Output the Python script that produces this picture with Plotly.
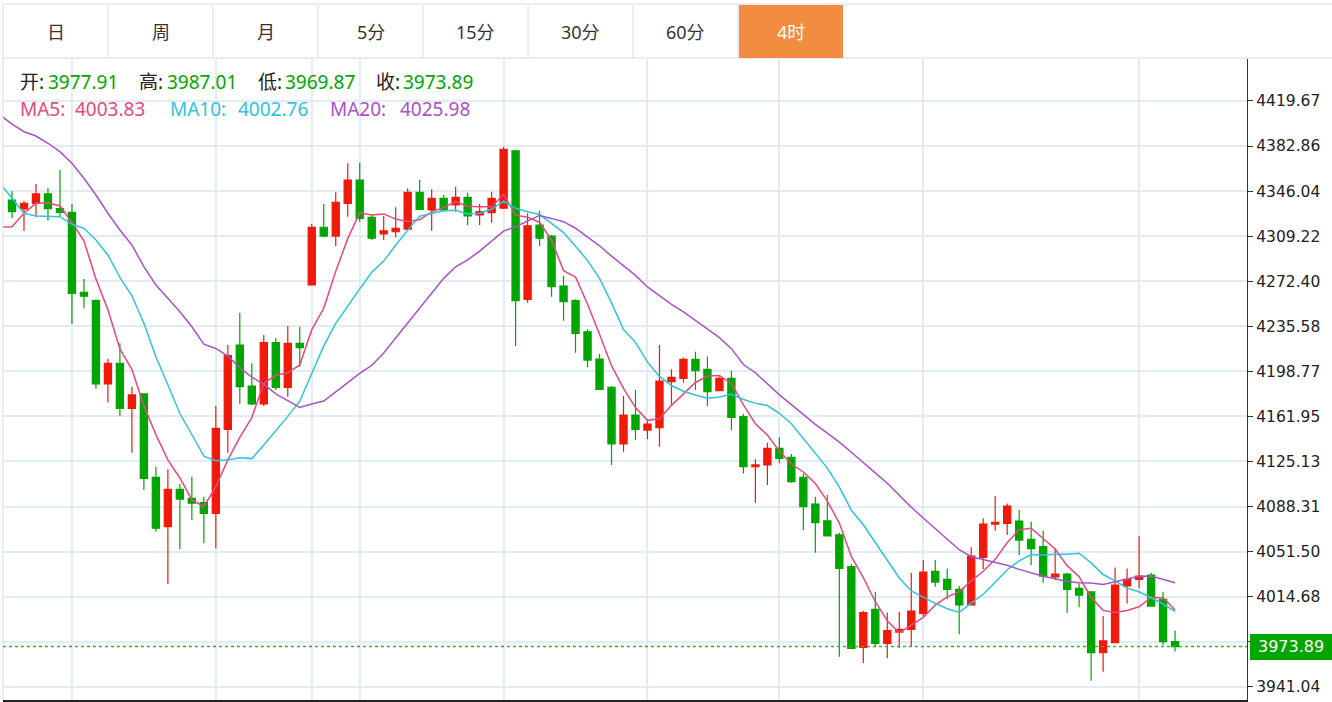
import plotly.graph_objects as go
import pandas as pd

# ---------------- data (4h bars) ----------------
opens = [4338.7, 4331.4, 4336.0, 4343.7, 4331.7, 4328.7, 4263.4, 4256.5, 4188.5, 4205.4,
         4168.6, 4180.3, 4112.2, 4071.9, 4102.4, 4095.0, 4091.5, 4082.8, 4151.4, 4220.3,
         4186.8, 4172.1, 4222.2, 4185.7, 4221.7, 4269.3, 4316.5, 4309.3, 4336.0, 4355.1,
         4324.6, 4311.0, 4312.8, 4315.0, 4345.0, 4330.6, 4340.1, 4334.7, 4340.9, 4326.5,
         4328.4, 4332.0, 4379.0, 4257.6, 4318.3, 4309.3, 4268.5, 4256.5, 4231.1, 4208.8,
         4185.7, 4139.4, 4163.1, 4150.8, 4152.7, 4190.3, 4193.1, 4208.6, 4200.4, 4182.9,
         4193.1, 4161.7, 4120.9, 4122.3, 4135.9, 4128.5, 4112.2, 4090.4, 4076.7, 4065.1,
         4039.2, 3973.3, 4004.3, 3976.6, 3985.8, 3988.0, 4001.1, 4035.4, 4028.8, 4020.7,
         4007.9, 4046.8, 4074.0, 4074.6, 4076.5, 4061.5, 4055.5, 4030.9, 4033.2, 4021.5,
         4018.7, 3968.9, 3977.1, 4023.4, 4028.8, 4032.4, 4012.5, 3977.91]
highs = [4346.1, 4338.2, 4351.8, 4348.6, 4363.3, 4335.5, 4274.2, 4257.6, 4209.1, 4221.7,
         4186.2, 4180.8, 4120.9, 4118.7, 4106.7, 4112.7, 4096.4, 4170.5, 4220.3, 4246.7,
         4205.4, 4228.4, 4225.8, 4235.8, 4235.2, 4319.2, 4335.5, 4345.0, 4368.7, 4369.2,
         4326.5, 4325.7, 4332.8, 4348.3, 4355.1, 4347.5, 4342.8, 4349.6, 4344.7, 4335.5,
         4345.5, 4382.3, 4379.5, 4327.9, 4330.0, 4310.1, 4276.6, 4257.6, 4233.1, 4212.9,
         4186.8, 4178.6, 4183.5, 4158.4, 4220.3, 4200.4, 4210.2, 4214.8, 4210.8, 4194.4,
         4199.3, 4163.9, 4126.9, 4140.5, 4144.9, 4131.2, 4115.4, 4096.4, 4097.7, 4066.9,
         4041.4, 4003.2, 4018.7, 4001.6, 4002.4, 4034.3, 4044.6, 4044.6, 4037.8, 4023.4,
         4055.0, 4078.7, 4096.9, 4090.9, 4085.5, 4075.9, 4068.5, 4054.2, 4034.3, 4025.6,
         4019.0, 3998.9, 4038.6, 4037.8, 4064.2, 4034.3, 4018.7, 3987.01]
lows = [4323.8, 4313.4, 4324.6, 4321.9, 4325.7, 4237.5, 4250.3, 4184.6, 4173.5, 4162.3,
        4132.3, 4101.9, 4067.8, 4025.1, 4053.4, 4077.3, 4058.3, 4054.2, 4132.3, 4172.1,
        4171.3, 4170.5, 4183.5, 4178.0, 4202.5, 4269.3, 4308.3, 4301.2, 4325.1, 4321.0,
        4306.1, 4306.1, 4308.3, 4314.2, 4330.6, 4313.6, 4329.2, 4329.2, 4318.3, 4318.3,
        4320.2, 4331.4, 4219.5, 4254.8, 4301.2, 4259.7, 4240.1, 4214.0, 4202.1, 4184.1,
        4122.3, 4133.1, 4142.7, 4143.2, 4137.2, 4172.1, 4189.5, 4183.5, 4170.5, 4182.9,
        4150.8, 4115.4, 4091.5, 4105.9, 4123.6, 4107.8, 4069.1, 4050.6, 4064.3, 3965.6,
        3972.5, 3960.3, 3973.8, 3964.4, 3972.5, 3973.8, 3998.9, 4022.8, 4012.5, 3983.9,
        4007.9, 4037.0, 4068.5, 4065.1, 4048.7, 4040.5, 4026.1, 4028.3, 4001.6, 4006.0,
        3946.0, 3953.4, 3977.1, 4009.2, 4021.5, 4006.5, 3975.2, 3969.87]
closes = [4329.2, 4336.0, 4343.7, 4331.7, 4328.7, 4262.5, 4260.1, 4188.5, 4205.4, 4168.6,
          4179.5, 4111.4, 4070.6, 4102.4, 4094.3, 4091.0, 4082.8, 4152.3, 4211.6, 4186.2,
          4172.1, 4222.2, 4185.7, 4221.7, 4218.1, 4316.5, 4309.3, 4336.9, 4355.1, 4323.8,
          4307.5, 4313.6, 4315.6, 4345.0, 4331.1, 4340.1, 4330.6, 4340.9, 4325.7, 4329.2,
          4340.1, 4380.2, 4256.5, 4317.7, 4307.5, 4267.9, 4255.7, 4229.8, 4208.0, 4184.1,
          4139.4, 4163.1, 4151.4, 4155.7, 4190.9, 4193.9, 4208.6, 4199.3, 4182.2, 4193.1,
          4161.2, 4120.9, 4122.3, 4135.9, 4127.7, 4108.6, 4088.2, 4075.1, 4064.3, 4037.8,
          3972.5, 4001.6, 3976.6, 3986.9, 3988.0, 4002.9, 4034.8, 4026.6, 4020.7, 4007.9,
          4047.9, 4074.0, 4075.4, 4088.7, 4060.9, 4053.9, 4031.5, 4033.2, 4020.7, 4016.0,
          3968.9, 3978.7, 4024.2, 4028.8, 4031.5, 4007.0, 3977.9, 3973.89]

# moving-average values before each window is full (bars -1 .. n-2)
ma5_head = [4316.5, 4316.9, 4327.9, 4336.0, 4336.5]
ma10_head = [4352.4, 4340.1, 4327.9, 4325.7, 4325.1, 4325.1, 4318.9, 4315.6, 4306.1, 4293.8]
ma20_head = [4408.2, 4400.8, 4394.5, 4391.0, 4385.1, 4378.2, 4368.7, 4356.5, 4342.8, 4327.9,
             4314.2, 4302.0, 4284.3, 4269.3, 4258.4, 4247.5, 4235.2, 4221.0, 4217.5, 4211.3]

# bars at which a vertical (session) grid line is drawn
session_bars = [5, 17, 25, 29, 41, 53, 64, 76, 94]

y_ticks = [4419.67, 4382.86, 4346.04, 4309.22, 4272.40, 4235.58, 4198.77, 4161.95,
           4125.13, 4088.31, 4051.50, 4014.68, 3977.86, 3941.04]
y_tick_text = ["4419.67", "4382.86", "4346.04", "4309.22", "4272.40", "4235.58", "4198.77",
               "4161.95", "4125.13", "4088.31", "4051.50", "4014.68", "", "3941.04"]

tabs = ["日", "周", "月", "5分", "15分", "30分", "60分", "4时"]
active_tab = "4时"

last_close = 3973.89
info_labels = ["开:", "高:", "低:", "收:"]
info_values = ["3977.91", "3987.01", "3969.87", "3973.89"]
ma_names = ["MA5:", "MA10:", "MA20:"]
ma_values = ["4003.83", "4002.76", "4025.98"]

# ---------------- styling ----------------
RED = "#F01A0A"
GREEN = "#00A600"
C_MA5 = "#E8487C"
C_MA10 = "#2EC4DA"
C_MA20 = "#A852C6"
GRID = "#E4ECF3"
ORANGE = "#F28C40"
FONT = "Noto Sans, Noto Sans CJK SC, sans-serif"

W, H = 1332, 702
L, R, T, B = 3, 85, 59, 2
PW, PH = W - L - R, H - T - B


def px2x(px):
    return (px - L) / PW


def py2y(py):
    return (H - B - py) / PH


n = len(closes)
xs = list(range(n))

cs = pd.Series(closes)
ma5 = ma5_head + cs.rolling(5).mean().tolist()[4:]
ma10 = ma10_head + cs.rolling(10).mean().tolist()[9:]
ma20 = ma20_head + cs.rolling(20).mean().tolist()[19:]
ma_x = [-1] + xs

fig = go.Figure()
fig.add_trace(go.Candlestick(
    x=xs, open=opens, high=highs, low=lows, close=closes,
    increasing=dict(line=dict(color=RED, width=1.2), fillcolor=RED),
    decreasing=dict(line=dict(color=GREEN, width=1.2), fillcolor=GREEN),
    whiskerwidth=0, hoverinfo="skip", showlegend=False,
))
for ys, col in [(ma5, C_MA5), (ma10, C_MA10), (ma20, C_MA20)]:
    fig.add_trace(go.Scatter(x=ma_x, y=ys, mode="lines", line=dict(color=col, width=1.5),
                             hoverinfo="skip", showlegend=False, cliponaxis=True))

shapes = []
annotations = []


def label(px, py, text, color, size=19, anchor="left"):
    annotations.append(dict(xref="paper", yref="paper", x=px2x(px), y=py2y(py), text=text,
                            showarrow=False, xanchor=anchor, yanchor="middle",
                            font=dict(family=FONT, size=size, color=color)))


# tab bar
TAB_W = 105
shapes.append(dict(type="line", xref="paper", yref="paper", x0=px2x(3), x1=px2x(1332),
                   y0=py2y(4), y1=py2y(4), line=dict(color="#DCDCDC", width=1)))
shapes.append(dict(type="line", xref="paper", yref="paper", x0=px2x(3), x1=px2x(1332),
                   y0=py2y(58), y1=py2y(58), line=dict(color="#DCDCDC", width=1)))
shapes.append(dict(type="line", xref="paper", yref="paper", x0=px2x(3), x1=px2x(3),
                   y0=py2y(4), y1=py2y(700), line=dict(color="#DCDCDC", width=1)))
for k, t in enumerate(tabs):
    x0 = 3 + TAB_W * k
    x1 = x0 + TAB_W
    if t == active_tab:
        shapes.append(dict(type="rect", xref="paper", yref="paper", x0=px2x(x0 + 1), x1=px2x(x1),
                           y0=py2y(58), y1=py2y(5), fillcolor=ORANGE, line=dict(width=0)))
    else:
        shapes.append(dict(type="line", xref="paper", yref="paper", x0=px2x(x1), x1=px2x(x1),
                           y0=py2y(5), y1=py2y(58), line=dict(color="#DCDCDC", width=1)))
    label((x0 + x1) / 2, 32, t, "white" if t == active_tab else "#333333", size=18,
          anchor="center")

# header info rows
for lab, val, lx, vx in zip(info_labels, info_values, [18, 137, 256, 374], [46, 165, 283, 401]):
    label(lx, 82, lab, "#222222")
    label(vx, 82, val, GREEN)
for nm, val, lx, vx, col in zip(ma_names, ma_values, [18, 168, 328], [73, 236, 398],
                                 [C_MA5, C_MA10, C_MA20]):
    label(lx, 109, nm, col)
    label(vx, 109, val, col)

# last price line and label
shapes.append(dict(type="line", xref="paper", yref="y", x0=0, x1=1, y0=last_close, y1=last_close,
                   line=dict(color="#2DB52D", width=1.5, dash="dot")))
shapes.append(dict(type="rect", xref="paper", yref="paper", x0=px2x(1250), x1=px2x(1332),
                   y0=py2y(660), y1=py2y(634), fillcolor=GREEN, line=dict(width=0)))
annotations.append(dict(xref="paper", yref="y", x=px2x(1291), y=last_close,
                        text=f"{last_close:.2f}", showarrow=False, xanchor="center",
                        yanchor="middle",
                        font=dict(family="DejaVu Sans, Verdana, sans-serif", size=16, color="white")))

y_top = 4382.86 + (146 - T) / 1.2241
y_bot = 4382.86 - (H - B - 146) / 1.2241

fig.update_layout(
    width=W, height=H,
    margin=dict(l=L, r=R, t=T, b=B),
    paper_bgcolor="white", plot_bgcolor="white",
    boxgap=0.4, boxgroupgap=0,
    shapes=shapes, annotations=annotations,
    xaxis=dict(range=[-0.75, 103], tickvals=session_bars, showticklabels=False,
               showgrid=True, gridcolor=GRID, gridwidth=2, zeroline=False,
               showline=True, linecolor="#222222", linewidth=2, ticks="",
               rangeslider=dict(visible=False), fixedrange=True),
    yaxis=dict(side="right", range=[y_bot, y_top], tickvals=y_ticks, ticktext=y_tick_text,
               showgrid=True, gridcolor=GRID, gridwidth=1.5, zeroline=False,
               showline=True, linecolor="#333333", linewidth=1.2,
               ticks="outside", ticklen=5, tickcolor="#333333",
               tickfont=dict(family="DejaVu Sans, Verdana, sans-serif", size=15.5, color="#222222"),
               fixedrange=True),
    hovermode=False,
)

fig.write_html("out.html", config={"displayModeBar": False})
